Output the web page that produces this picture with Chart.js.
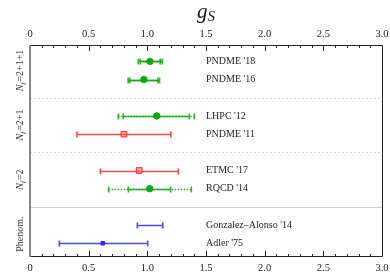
<!DOCTYPE html>
<html>
<head>
<meta charset="utf-8">
<script src="https://cdn.jsdelivr.net/npm/chart.js@4/dist/chart.umd.min.js"></script>
<style>
    html, body { margin: 0; padding: 0; background: #fff; }
    #wrap { width: 390px; height: 277px; }
</style>
</head>
<body>
<div id="wrap"><canvas id="gsChart" width="390" height="277"></canvas></div>
<script>
// one entry per result, top to bottom
const names = ["PNDME '18", "PNDME '16", "LHPC '12", "PNDME '11", "ETMC '17", "RQCD '14", "Gonzalez\u2013Alonso '14", "Adler '75"];
const rows = [0, 1, 3, 4, 6, 7, 9, 10];
const central = [1.022, 0.97, 1.08, 0.80, 0.93, 1.02, 1.02, 0.62];
const statLow = [0.94, 0.85, 0.795, 0.40, 0.60, 0.838, 0.915, 0.25];
const statHigh = [1.11, 1.09, 1.358, 1.20, 1.264, 1.199, 1.131, 1.003];
const totalLow = [0.923, 0.836, 0.753, null, null, 0.670, null, null];
const totalHigh = [1.127, 1.104, 1.40, null, null, 1.375, null, null];
const totalDotted = [false, false, true, false, false, true, false, false];
const colors = ['#10a810', '#10a810', '#10a810', '#ff2a2a', '#ff2a2a', '#10a810', '#2a2aff', '#2a2aff'];
const markers = ['circle', 'circle', 'circle', 'rect', 'rect', 'circle', false, 'rect'];

// group labels on the left, and separators between groups
const groups = [
    {sub: '=2+1+1', row: 0.5},
    {sub: '=2+1', row: 3.5},
    {sub: '=2', row: 6.5},
    {plain: 'Phenom.', row: 9.5}
];
const dashedRows = [2, 5];
const solidRows = [8];
const xTicks = [0, 0.5, 1.0, 1.5, 2.0, 2.5, 3.0];

const SERIF = '"Liberation Serif", "DejaVu Serif", serif';

const errorBarPlugin = {
    id: 'errorBars',
    beforeDatasetsDraw(chart)
    {
        const ctx = chart.ctx;
        const xs = chart.scales.x;
        const ys = chart.scales.y;
        const area = chart.chartArea;

        ctx.save();
        // separators
        ctx.lineWidth = 1;
        ctx.strokeStyle = '#d4d4d4';
        ctx.setLineDash([2, 2]);
        dashedRows.forEach(r =>
        {
            const y = Math.round(ys.getPixelForValue(r)) + 0.5;
            ctx.beginPath();
            ctx.moveTo(area.left, y);
            ctx.lineTo(area.right, y);
            ctx.stroke();
        });
        ctx.setLineDash([]);
        ctx.strokeStyle = '#cfcfcf';
        solidRows.forEach(r =>
        {
            const y = Math.round(ys.getPixelForValue(r)) + 0.5;
            ctx.beginPath();
            ctx.moveTo(area.left, y);
            ctx.lineTo(area.right, y);
            ctx.stroke();
        });

        // error bars
        const cap = 3;
        rows.forEach((r, i) =>
        {
            const y = Math.round(ys.getPixelForValue(r)) + 0.5;
            ctx.strokeStyle = colors[i];
            ctx.globalAlpha = 0.85;
            ctx.lineWidth = 1.6;
            if (totalLow[i] !== null)
            {
                const a = xs.getPixelForValue(totalLow[i]);
                const b = xs.getPixelForValue(totalHigh[i]);
                ctx.setLineDash(totalDotted[i] ? [1.5, 1.5] : []);
                ctx.beginPath();
                ctx.moveTo(a, y);
                ctx.lineTo(b, y);
                ctx.stroke();
                ctx.setLineDash([]);
                ctx.beginPath();
                ctx.moveTo(a, y - cap);
                ctx.lineTo(a, y + cap);
                ctx.moveTo(b, y - cap);
                ctx.lineTo(b, y + cap);
                ctx.stroke();
            }
            const a = xs.getPixelForValue(statLow[i]);
            const b = xs.getPixelForValue(statHigh[i]);
            ctx.beginPath();
            ctx.moveTo(a, y);
            ctx.lineTo(b, y);
            ctx.moveTo(a, y - cap);
            ctx.lineTo(a, y + cap);
            ctx.moveTo(b, y - cap);
            ctx.lineTo(b, y + cap);
            ctx.stroke();
        });
        ctx.restore();
    },
    afterDraw(chart)
    {
        const ctx = chart.ctx;
        const xs = chart.scales.x;
        const ys = chart.scales.y;
        const area = chart.chartArea;

        ctx.save();
        // frame
        ctx.strokeStyle = '#222';
        ctx.lineWidth = 1;
        ctx.beginPath();
        ctx.moveTo(area.left, area.top + 0.5);
        ctx.lineTo(area.right + 0.5, area.top + 0.5);
        ctx.lineTo(area.right + 0.5, area.bottom + 0.5);
        ctx.lineTo(area.left, area.bottom + 0.5);
        ctx.stroke();
        ctx.strokeStyle = '#888';
        ctx.lineWidth = 2;
        ctx.beginPath();
        ctx.moveTo(area.left, area.top);
        ctx.lineTo(area.left, area.bottom + 1);
        ctx.stroke();

        // inward ticks, every 0.1, longer every 0.5
        ctx.strokeStyle = '#222';
        ctx.lineWidth = 1;
        for (let i = 1; i < 30; i++)
        {
            const x = Math.round(xs.getPixelForValue(i / 10)) + 0.5;
            const len = i % 5 === 0 ? 6 : 3;
            ctx.beginPath();
            ctx.moveTo(x, area.top);
            ctx.lineTo(x, area.top + len);
            ctx.moveTo(x, area.bottom + 1);
            ctx.lineTo(x, area.bottom + 1 - len);
            ctx.stroke();
        }

        // result names at x = 1.5
        ctx.fillStyle = '#222';
        ctx.font = '10px ' + SERIF;
        ctx.textBaseline = 'middle';
        ctx.textAlign = 'left';
        names.forEach((n, i) =>
        {
            ctx.fillText(n, xs.getPixelForValue(1.5), ys.getPixelForValue(rows[i]));
        });

        // rotated group labels
        ctx.fillStyle = '#333';
        groups.forEach(g =>
        {
            const y = ys.getPixelForValue(g.row);
            ctx.save();
            ctx.translate(23, y);
            ctx.rotate(-Math.PI / 2);
            ctx.textBaseline = 'alphabetic';
            if (g.plain)
            {
                ctx.font = '10px ' + SERIF;
                ctx.textAlign = 'center';
                ctx.fillText(g.plain, 0, 0);
            }
            else
            {
                ctx.font = 'italic 10px ' + SERIF;
                const wN = ctx.measureText('N').width;
                ctx.font = 'italic 7px ' + SERIF;
                const wf = ctx.measureText('f').width;
                ctx.font = '10px ' + SERIF;
                const wS = ctx.measureText(g.sub).width;
                let x0 = -(wN + wf + 1 + wS) / 2;
                ctx.textAlign = 'left';
                ctx.font = 'italic 10px ' + SERIF;
                ctx.fillText('N', x0, 0);
                ctx.font = 'italic 7px ' + SERIF;
                ctx.fillText('f', x0 + wN, 2);
                ctx.font = '10px ' + SERIF;
                ctx.fillText(g.sub, x0 + wN + wf + 1, 0);
            }
            ctx.restore();
        });

        // title g_S
        const cx = (area.left + area.right) / 2;
        ctx.fillStyle = '#111';
        ctx.textBaseline = 'alphabetic';
        ctx.textAlign = 'left';
        ctx.font = 'italic 21px ' + SERIF;
        const wg = ctx.measureText('g').width;
        ctx.font = 'italic 15px ' + SERIF;
        const ws = ctx.measureText('S').width;
        const tx = cx - (wg + ws) / 2;
        ctx.font = 'italic 21px ' + SERIF;
        ctx.fillText('g', tx, 18);
        ctx.font = 'italic 15px ' + SERIF;
        ctx.fillText('S', tx + wg, 21);
        ctx.restore();
    }
};

function tickFormat(v)
{
    return v === 0 ? '0' : v.toFixed(1);
}

const axisTicks = {
    stepSize: 0.5,
    autoSkip: false,
    maxRotation: 0,
    color: '#222',
    font: {family: SERIF, size: 10.5},
    callback: tickFormat
};

function fixBottom(s)
{
    s.height = 21;
    s.paddingLeft = 0;
    s.paddingRight = 0;
}

function fixTop(s)
{
    s.height = 45;
    s.paddingLeft = 0;
    s.paddingRight = 0;
}

new Chart(document.getElementById('gsChart'), {
    type: 'scatter',
    data: {
        datasets: [{
            data: rows.map((r, i) => ({x: central[i], y: r})),
            pointStyle: markers,
            pointRadius: markers.map((m, i) => m === false ? 0 : (i === 7 ? 2.5 : (m === 'rect' ? 4 : 3.2))),
            backgroundColor: colors.map((c, i) => markers[i] === 'rect' && i < 7 ? 'rgba(255,90,90,0.55)' : c),
            borderColor: colors,
            borderWidth: 1
        }]
    },
    options: {
        responsive: false,
        animation: false,
        events: [],
        layout: {padding: {left: 30, right: 8, top: 0, bottom: 0}},
        plugins: {legend: {display: false}, tooltip: {enabled: false}},
        scales: {
            x: {
                type: 'linear',
                position: 'bottom',
                min: 0,
                max: 3,
                afterBuildTicks: s => { s.ticks = xTicks.map(v => ({value: v})); },
                ticks: Object.assign({padding: 6}, axisTicks),
                grid: {display: false, drawTicks: false},
                border: {display: false},
                afterFit: fixBottom
            },
            x2: {
                type: 'linear',
                position: 'top',
                min: 0,
                max: 3,
                afterBuildTicks: s => { s.ticks = xTicks.map(v => ({value: v})); },
                ticks: Object.assign({padding: 4}, axisTicks),
                grid: {display: false, drawTicks: false},
                border: {display: false},
                afterFit: fixTop
            },
            y: {
                type: 'linear',
                min: -0.9,
                max: 10.7,
                reverse: true,
                display: false
            }
        }
    },
    plugins: [errorBarPlugin]
});
</script>
</body>
</html>
